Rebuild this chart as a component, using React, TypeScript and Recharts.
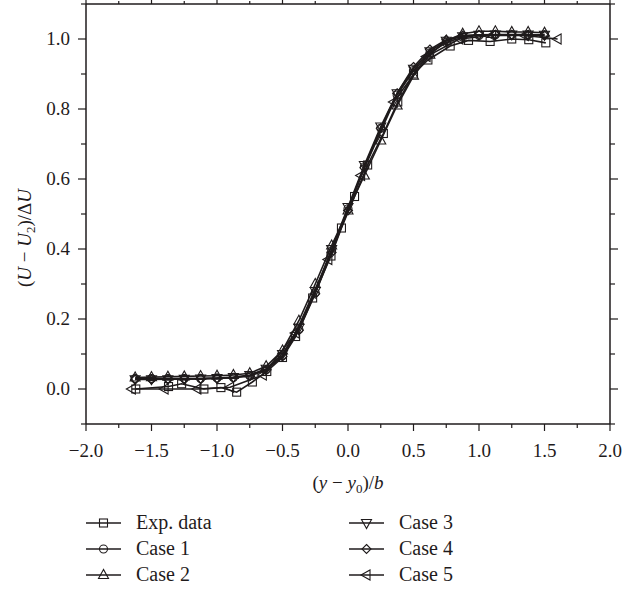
import React from "react";
import { LineChart, Line, XAxis, YAxis } from "recharts";

// x positions of the simulated profiles (cases 1-4)
const caseX = [-1.625, -1.5, -1.375, -1.25, -1.125, -1, -0.875, -0.75, -0.625, -0.5, -0.375, -0.25, -0.125, 0, 0.125, 0.25, 0.375, 0.5, 0.625, 0.75, 0.875, 1, 1.125, 1.25, 1.375, 1.5];
const case1 = [0.03, 0.03, 0.03, 0.03, 0.03, 0.031, 0.033, 0.038, 0.055, 0.095, 0.17, 0.275, 0.395, 0.515, 0.635, 0.745, 0.84, 0.91, 0.96, 0.99, 1.005, 1.01, 1.012, 1.012, 1.012, 1.012];
const case2 = [0.033, 0.034, 0.035, 0.036, 0.037, 0.038, 0.04, 0.045, 0.065, 0.11, 0.195, 0.3, 0.41, 0.51, 0.61, 0.71, 0.81, 0.895, 0.955, 0.995, 1.015, 1.022, 1.022, 1.02, 1.02, 1.018];
const case3 = [0.028, 0.028, 0.028, 0.029, 0.03, 0.031, 0.034, 0.04, 0.058, 0.1, 0.175, 0.28, 0.4, 0.52, 0.64, 0.75, 0.845, 0.915, 0.965, 0.995, 1.008, 1.012, 1.013, 1.013, 1.013, 1.012];
const case4 = [0.027, 0.027, 0.028, 0.028, 0.029, 0.03, 0.032, 0.037, 0.054, 0.093, 0.168, 0.272, 0.39, 0.51, 0.632, 0.745, 0.845, 0.92, 0.97, 0.998, 1.01, 1.012, 1.012, 1.012, 1.01, 1.01];

// case 5 is on a coarser grid
const case5X = [-1.65, -1.4, -1.15, -0.9, -0.65, -0.4, -0.15, 0.1, 0.35, 0.6, 0.85, 1.1, 1.35, 1.6];
const case5 = [0.0, 0.0, 0.0, 0.005, 0.04, 0.16, 0.37, 0.61, 0.82, 0.95, 1.0, 1.01, 1.01, 1.0];

// experiment
const expX = [-1.62, -1.37, -1.27, -1.1, -0.97, -0.85, -0.73, -0.62, -0.5, -0.4, -0.27, -0.13, -0.05, 0.05, 0.15, 0.27, 0.38, 0.5, 0.61, 0.78, 0.92, 1.085, 1.25, 1.38, 1.51];
const expY = [0.0, 0.007, 0.015, 0.0, 0.004, -0.009, 0.02, 0.05, 0.09, 0.15, 0.26, 0.38, 0.46, 0.55, 0.64, 0.73, 0.82, 0.9, 0.94, 0.98, 0.996, 0.993, 1.0, 0.998, 0.989];

const xTicks = [-2, -1.75, -1.5, -1.25, -1, -0.75, -0.5, -0.25, 0, 0.25, 0.5, 0.75, 1, 1.25, 1.5, 1.75, 2];
const yTicks = [-0.1, 0, 0.1, 0.2, 0.3, 0.4, 0.5, 0.6, 0.7, 0.8, 0.9, 1.0, 1.1];

const INK = "#1f1b1c";
const FONT = "'Liberation Serif', 'Times New Roman', serif";

const zip = (xs: number[], ys: number[]) => xs.map((x, i) => ({ x, y: ys[i] }));

type Shape = "square" | "circle" | "up" | "down" | "diamond" | "left";

const series: { name: string; shape: Shape; data: { x: number; y: number }[] }[] = [
  { name: "Exp. data", shape: "square", data: zip(expX, expY) },
  { name: "Case 1", shape: "circle", data: zip(caseX, case1) },
  { name: "Case 2", shape: "up", data: zip(caseX, case2) },
  { name: "Case 3", shape: "down", data: zip(caseX, case3) },
  { name: "Case 4", shape: "diamond", data: zip(caseX, case4) },
  { name: "Case 5", shape: "left", data: zip(case5X, case5) },
];

function Marker({ shape, cx, cy }: { shape: Shape; cx: number; cy: number }) {
  const p = { fill: "none", stroke: INK, strokeWidth: 1.1 };
  const s = 4.5;
  switch (shape) {
    case "square":
      return <rect x={cx - 4} y={cy - 4} width={8} height={8} {...p} />;
    case "circle":
      return <circle cx={cx} cy={cy} r={4} {...p} />;
    case "up":
      return <polygon points={`${cx},${cy - s - 1} ${cx - s - 0.5},${cy + s - 1} ${cx + s + 0.5},${cy + s - 1}`} {...p} />;
    case "down":
      return <polygon points={`${cx},${cy + s + 1} ${cx - s - 0.5},${cy - s + 1} ${cx + s + 0.5},${cy - s + 1}`} {...p} />;
    case "diamond":
      return <polygon points={`${cx},${cy - s} ${cx + s},${cy} ${cx},${cy + s} ${cx - s},${cy}`} {...p} />;
    default:
      return <polygon points={`${cx - s - 1},${cy} ${cx + s - 1},${cy - s - 0.5} ${cx + s - 1},${cy + s + 0.5}`} {...p} />;
  }
}

const isMajor = (v: number, step: number) => Math.abs(v / step - Math.round(v / step)) < 1e-6;
const fmt = (v: number) => v.toFixed(1).replace("-", "\u2212");

function BottomTick(props: any) {
  const { x, y, payload } = props;
  const major = isMajor(payload.value, 0.5);
  return (
    <g>
      <line x1={x} x2={x} y1={y} y2={y + (major ? 7 : 4)} stroke={INK} strokeWidth={1.2} />
      {major && (
        <text x={x} y={y + 33} textAnchor="middle" fontFamily={FONT} fontSize={19} fill={INK}>
          {fmt(payload.value)}
        </text>
      )}
    </g>
  );
}

function TopTick(props: any) {
  const { x, y, payload } = props;
  const major = isMajor(payload.value, 0.5);
  return <line x1={x} x2={x} y1={y} y2={y - (major ? 5 : 3)} stroke={INK} strokeWidth={1.2} />;
}

function LeftTick(props: any) {
  const { x, y, payload } = props;
  const major = isMajor(payload.value, 0.2);
  return (
    <g>
      <line x1={x - (major ? 8 : 5)} x2={x} y1={y} y2={y} stroke={INK} strokeWidth={1.2} />
      {major && (
        <text x={x - 16} y={y + 6} textAnchor="end" fontFamily={FONT} fontSize={19} fill={INK}>
          {fmt(payload.value)}
        </text>
      )}
    </g>
  );
}

function RightTick(props: any) {
  const { x, y, payload } = props;
  const major = isMajor(payload.value, 0.2);
  return <line x1={x} x2={x + (major ? 8 : 5)} y1={y} y2={y} stroke={INK} strokeWidth={1.2} />;
}

const legendCols = [86, 349];
const legendRows = [523, 549, 575];

export default function App() {
  return (
    <div style={{ position: "absolute", left: 0, top: 0, width: 635, height: 589, background: "#fff" }}>
      <LineChart width={635} height={589} margin={{ top: 2, right: 15, bottom: 125, left: 26 }}>
        <XAxis
          xAxisId={0}
          type="number"
          dataKey="x"
          domain={[-2, 2]}
          ticks={xTicks}
          allowDataOverflow
          height={40}
          tickSize={0}
          tickMargin={0}
          tickLine={false}
          tick={<BottomTick />}
          axisLine={{ stroke: INK, strokeWidth: 1.5 }}
          interval={0}
        />
        <XAxis
          xAxisId="top"
          orientation="top"
          type="number"
          dataKey="x"
          domain={[-2, 2]}
          ticks={xTicks}
          allowDataOverflow
          height={2}
          tickSize={0}
          tickMargin={0}
          tickLine={false}
          tick={<TopTick />}
          axisLine={{ stroke: INK, strokeWidth: 1.5 }}
          interval={0}
        />
        <YAxis
          yAxisId={0}
          type="number"
          domain={[-0.1, 1.1]}
          ticks={yTicks}
          allowDataOverflow
          width={60}
          tickSize={0}
          tickMargin={0}
          tickLine={false}
          tick={<LeftTick />}
          axisLine={{ stroke: INK, strokeWidth: 1.5 }}
          interval={0}
        />
        <YAxis
          yAxisId="right"
          orientation="right"
          type="number"
          domain={[-0.1, 1.1]}
          ticks={yTicks}
          allowDataOverflow
          width={10}
          tickSize={0}
          tickMargin={0}
          tickLine={false}
          tick={<RightTick />}
          axisLine={{ stroke: INK, strokeWidth: 1.5 }}
          interval={0}
        />
        {series.map((s) => (
          <Line
            key={s.name}
            name={s.name}
            data={s.data}
            dataKey="y"
            type="linear"
            stroke={INK}
            strokeWidth={1.6}
            isAnimationActive={false}
            dot={(p: any) => <Marker key={`${s.name}-${p.index}`} shape={s.shape} cx={p.cx} cy={p.cy} />}
            activeDot={false}
          />
        ))}
      </LineChart>
      <svg width={635} height={589} style={{ position: "absolute", left: 0, top: 0, pointerEvents: "none" }}>
        <text x={348} y={489} textAnchor="middle" fontFamily={FONT} fontSize={19} fill={INK}>
          (<tspan fontStyle="italic">y</tspan> − <tspan fontStyle="italic">y</tspan>
          <tspan fontSize={13} dy={4}>0</tspan>
          <tspan dy={-4}>)/</tspan>
          <tspan fontStyle="italic">b</tspan>
        </text>
        <text
          x={31}
          y={238}
          transform="rotate(-90 31 238)"
          textAnchor="middle"
          fontFamily={FONT}
          fontSize={19}
          fill={INK}
        >
          (<tspan fontStyle="italic">U</tspan> − <tspan fontStyle="italic">U</tspan>
          <tspan fontSize={13} dy={4}>2</tspan>
          <tspan dy={-4}>)/Δ</tspan>
          <tspan fontStyle="italic">U</tspan>
        </text>
        {series.map((s, i) => {
          const lx = legendCols[Math.floor(i / 3)];
          const ly = legendRows[i % 3];
          return (
            <g key={s.name}>
              <line x1={lx} x2={lx + 35} y1={ly} y2={ly} stroke={INK} strokeWidth={1.3} />
              <Marker shape={s.shape} cx={lx + 17.5} cy={ly} />
              <text x={lx + 50} y={ly + 6} fontFamily={FONT} fontSize={20} fill={INK}>
                {s.name}
              </text>
            </g>
          );
        })}
      </svg>
    </div>
  );
}
